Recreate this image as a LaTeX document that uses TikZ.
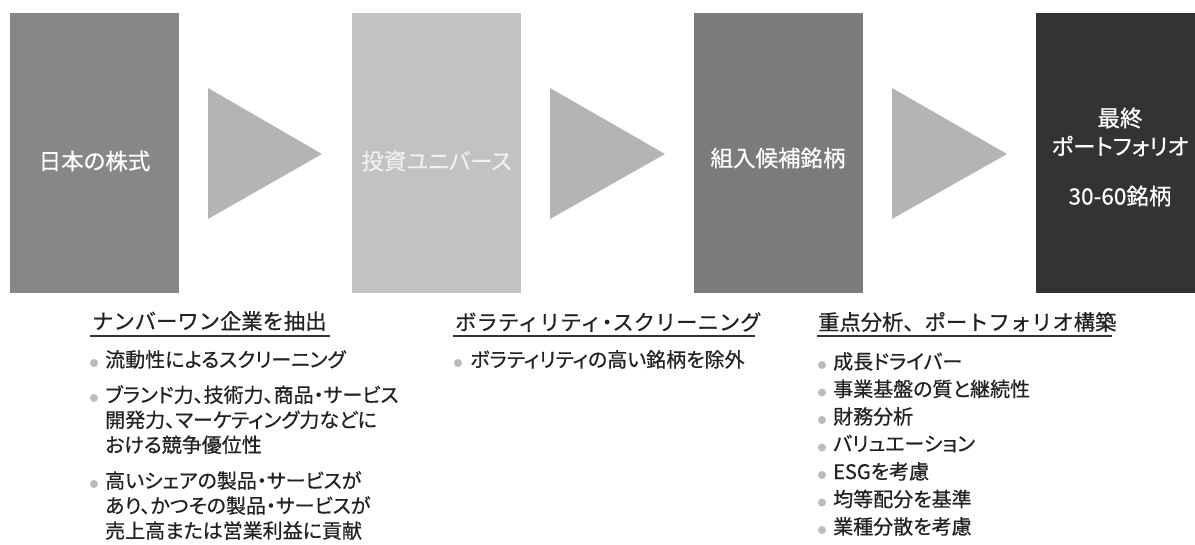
\documentclass[tikz,border=0pt]{standalone}
\usepackage{fontspec}
\setmainfont{Noto Sans CJK JP}[FakeBold=0.6]
\newfontfamily\jpp{Noto Sans CJK JP}[RawFeature=+palt, FakeBold=0.6]
\definecolor{cA}{HTML}{878787}
\definecolor{cB}{HTML}{C2C2C2}
\definecolor{cC}{HTML}{7B7B7B}
\definecolor{cD}{HTML}{333333}
\definecolor{tri}{HTML}{B4B4B4}
\definecolor{txt}{HTML}{222222}
\definecolor{bul}{HTML}{BBBBBB}
\tikzset{
  stage/.style={draw=none, minimum width=169pt, minimum height=280pt, inner sep=0pt},
  stagetxt/.style={text=white, font=\jpp\fontsize{22.5}{26}\selectfont, align=center, inner sep=0pt},
  arrowtri/.style={fill=tri},
  head/.style={text=txt, font=\fontsize{21.3}{25}\selectfont, anchor=west, inner sep=0pt},
  item/.style={text=txt, font=\jpp\fontsize{20}{25}\selectfont, anchor=north west, align=left, inner sep=0pt},
  uline/.style={draw=cD, line width=2pt},
  dot/.style={fill=bul}
}
\begin{document}
\begin{tikzpicture}[x=1pt,y=-1pt]
\useasboundingbox (0,0) rectangle (1195,544);
\clip (0,0) rectangle (1195,544);
% stages
\node[stage, fill=cA] (b1) at (94.5,153) {};
\node[stage, fill=cB] (b2) at (436.5,153) {};
\node[stage, fill=cC] (b3) at (778,153) {};
\node[stage, fill=cD] (b4) at (1120.5,153) {};
\node[stagetxt] (t1) at (94.5,161) {日本の株式};
\node[stagetxt, text=white!94!black] (t2) at (436.5,161) {投資ユニバース};
\node[stagetxt] (t3) at (778,158) {組入候補銘柄};
\node[stagetxt] (t4a) at (1120,118) {最終};
\node[stagetxt] (t4b) at (1120,146) {ポートフォリオ};
\node[stagetxt] (t4c) at (1120,196) {30-60銘柄};
% triangles
\fill[arrowtri] (208,88) -- (322,154) -- (208,219) -- cycle;
\fill[arrowtri] (550,88) -- (665,154) -- (550,219) -- cycle;
\fill[arrowtri] (892,88) -- (1007,154) -- (892,219) -- cycle;
% column 1
\node[head] (h1) at (92,321) {ナンバーワン企業を抽出};
\draw[uline] (90,336) -- (330,336);
\fill[dot] (94,363) circle[radius=4pt];
\node[item] (i11) at (105,350) {流動性によるスクリーニング};
\fill[dot] (94,398) circle[radius=4pt];
\node[item] (i12) at (105,385) {ブランド力、技術力、商品・サービス\\開発力、マーケティング力などに\\おける競争優位性};
\fill[dot] (94,484) circle[radius=4pt];
\node[item] (i13) at (105,471) {高いシェアの製品・サービスが\\あり、かつその製品・サービスが\\売上高または営業利益に貢献};
% column 2
\node[head] (h2) at (455,322) {ボラティリティ{\jpp ・}スクリーニング};
\draw[uline] (453,336) -- (755,336);
\fill[dot] (458,363) circle[radius=4pt];
\node[item] (i21) at (470,350) {ボラティリティの高い銘柄を除外};
% column 3
\node[head] (h3) at (818,322) {重点分析、ポートフォリオ構築};
\draw[uline] (817,336) -- (1112,336);
\foreach \t [count=\k] in {成長ドライバー,事業基盤の質と継続性,財務分析,バリュエーション,ESGを考慮,均等配分を基準,業種分散を考慮}{
  \fill[dot] (822,{365+(\k-1)*27.5}) circle[radius=4pt];
  \node[item] (i3\k) at (833,{352+(\k-1)*27.5}) {\t};
}
\end{tikzpicture}
\end{document}
